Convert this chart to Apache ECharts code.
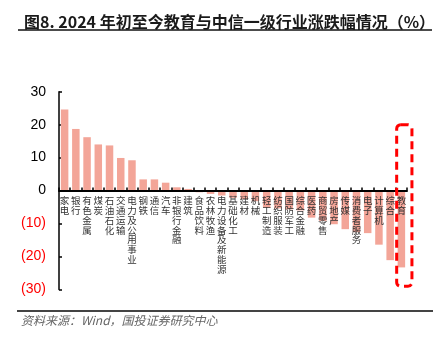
<!DOCTYPE html>
<html>
<head>
<meta charset="utf-8">
<script src="https://cdn.jsdelivr.net/npm/echarts@6/dist/echarts.min.js"></script>
<style>
  html, body { margin: 0; padding: 0; background: #fff; }
  #chart { width: 442px; height: 340px; }
</style>
</head>
<body>
<div id="chart"></div>
<script>
// 2024 year-to-date change of CITIC level-1 industries plus education (%)
const categories = ['家电','银行','有色金属','煤炭','石油石化','交通运输','电力及公用事业','钢铁','通信','汽车','非银行金融','建筑','食品饮料','农林牧渔','电力设备及新能源','基础化工','建材','机械','轻工制造','纺织服装','国防军工','综合金融','医药','商贸零售','房地产','传媒','消费者服务','电子','计算机','综合','教育'];
const changes = [24.6, 18.7, 16.2, 14.0, 13.7, 9.9, 9.2, 3.4, 3.4, 2.4, 1.0, 0.5, -0.5, -1.0, -1.5, -2.2, -2.6, -3.2, -5.2, -5.4, -5.7, -6.0, -8.2, -9.2, -10.2, -11.7, -12.6, -12.9, -16.4, -21.1, -23.3];
const yTicks = [-30, -20, -10, 0, 10, 20, 30];

// highlighted industry and the vertical span of its dashed frame (axis units)
const focusCategory = '教育';
const focusSpan = [20, -29];

const chart = echarts.init(document.getElementById('chart'), null, { renderer: 'canvas' });

const fmtTick = v => (v < 0 ? '(' + (-v) + ')' : String(v));

// plot area: full grid for the bars, upper half grid whose bottom edge is the zero line
const plot = { left: 59, right: 35, top: 91.7, bottom: 50.5 };
const zeroFromBottom = plot.bottom + (340 - plot.top - plot.bottom) / 2;

const staticGraphics = [
  { type: 'line', shape: { x1: 18, y1: 30, x2: 432, y2: 30 }, style: { stroke: '#111', lineWidth: 1.5 } },
  { type: 'line', shape: { x1: 17, y1: 311, x2: 433, y2: 311 }, style: { stroke: '#444', lineWidth: 1.8 } },
  {
    type: 'text', left: 21, top: 314,
    style: { text: '资料来源：Wind，国投证券研究中心', fontSize: 12, fontStyle: 'italic', fill: '#666', fontFamily: 'Noto Sans CJK SC' }
  }
];

chart.setOption({
  animation: false,
  backgroundColor: '#fff',
  title: {
    text: '图8. 2024 年初至今教育与中信一级行业涨跌幅情况（%）',
    left: 19, top: 9,
    textStyle: { fontSize: 16, fontWeight: 'bold', color: '#1a1a1a', fontFamily: 'Noto Sans CJK SC' }
  },
  grid: [
    { left: plot.left, right: plot.right, top: plot.top, bottom: plot.bottom, containLabel: false, outerBoundsMode: 'none' },
    { left: plot.left, right: plot.right, top: plot.top, bottom: zeroFromBottom, containLabel: false, outerBoundsMode: 'none' }
  ],
  xAxis: [
    {
      type: 'category', gridIndex: 0, data: categories,
      axisLine: { show: false }, axisTick: { show: false }, axisLabel: { show: false }, splitLine: { show: false }
    },
    {
      // zero line with the industry names hanging below it, drawn over the bars
      type: 'category', gridIndex: 1, data: categories, position: 'bottom', z: 10,
      axisLine: { onZero: false, lineStyle: { color: '#000', width: 2 } },
      axisTick: { show: true, inside: true, length: 3, lineStyle: { color: '#000', width: 1.5 } },
      axisLabel: {
        interval: 0,
        margin: 5,
        fontSize: 9.5,
        lineHeight: 9.8,
        color: '#333',
        fontFamily: 'Noto Sans CJK SC',
        verticalAlign: 'top',
        formatter: v => v.split('').join('\n')
      },
      splitLine: { show: false }
    }
  ],
  yAxis: [
    {
      type: 'value', gridIndex: 0,
      min: yTicks[0], max: yTicks[yTicks.length - 1], interval: 10,
      axisLine: { show: true, lineStyle: { color: '#000', width: 1.5 } },
      axisTick: { show: true, inside: true, length: 3, lineStyle: { color: '#000', width: 1.5 } },
      splitLine: { show: false },
      axisLabel: {
        margin: 13,
        fontSize: 14,
        fontFamily: 'Liberation Sans',
        formatter: fmtTick,
        color: v => (Number(v) < 0 ? '#FF0000' : '#000')
      }
    },
    {
      type: 'value', gridIndex: 1, min: 0, max: yTicks[yTicks.length - 1],
      axisLine: { show: false }, axisTick: { show: false }, axisLabel: { show: false }, splitLine: { show: false }
    }
  ],
  series: [{
    type: 'bar',
    xAxisIndex: 0, yAxisIndex: 0,
    data: changes,
    barWidth: 7.5,
    z: 2,
    itemStyle: { color: '#F3A598' }
  }],
  graphic: staticGraphics
});

// dashed frame around the highlighted industry, placed through the axes
const idx = categories.indexOf(focusCategory);
const p0 = chart.convertToPixel({ gridIndex: 0 }, [idx, focusSpan[0]]);
const p1 = chart.convertToPixel({ gridIndex: 0 }, [idx, focusSpan[1]]);
const pPrev = chart.convertToPixel({ gridIndex: 0 }, [idx - 1, 0]);
const band = p0[0] - pPrev[0];
chart.setOption({
  graphic: staticGraphics.concat([{
    type: 'rect',
    shape: { x: p0[0] - band * 0.42, y: p0[1], width: band * 1.36, height: p1[1] - p0[1], r: 4 },
    style: { fill: 'none', stroke: '#FF0000', lineWidth: 3, lineDash: [8, 5] },
    z: 100
  }])
}, { replaceMerge: ['graphic'] });
</script>
</body>
</html>
